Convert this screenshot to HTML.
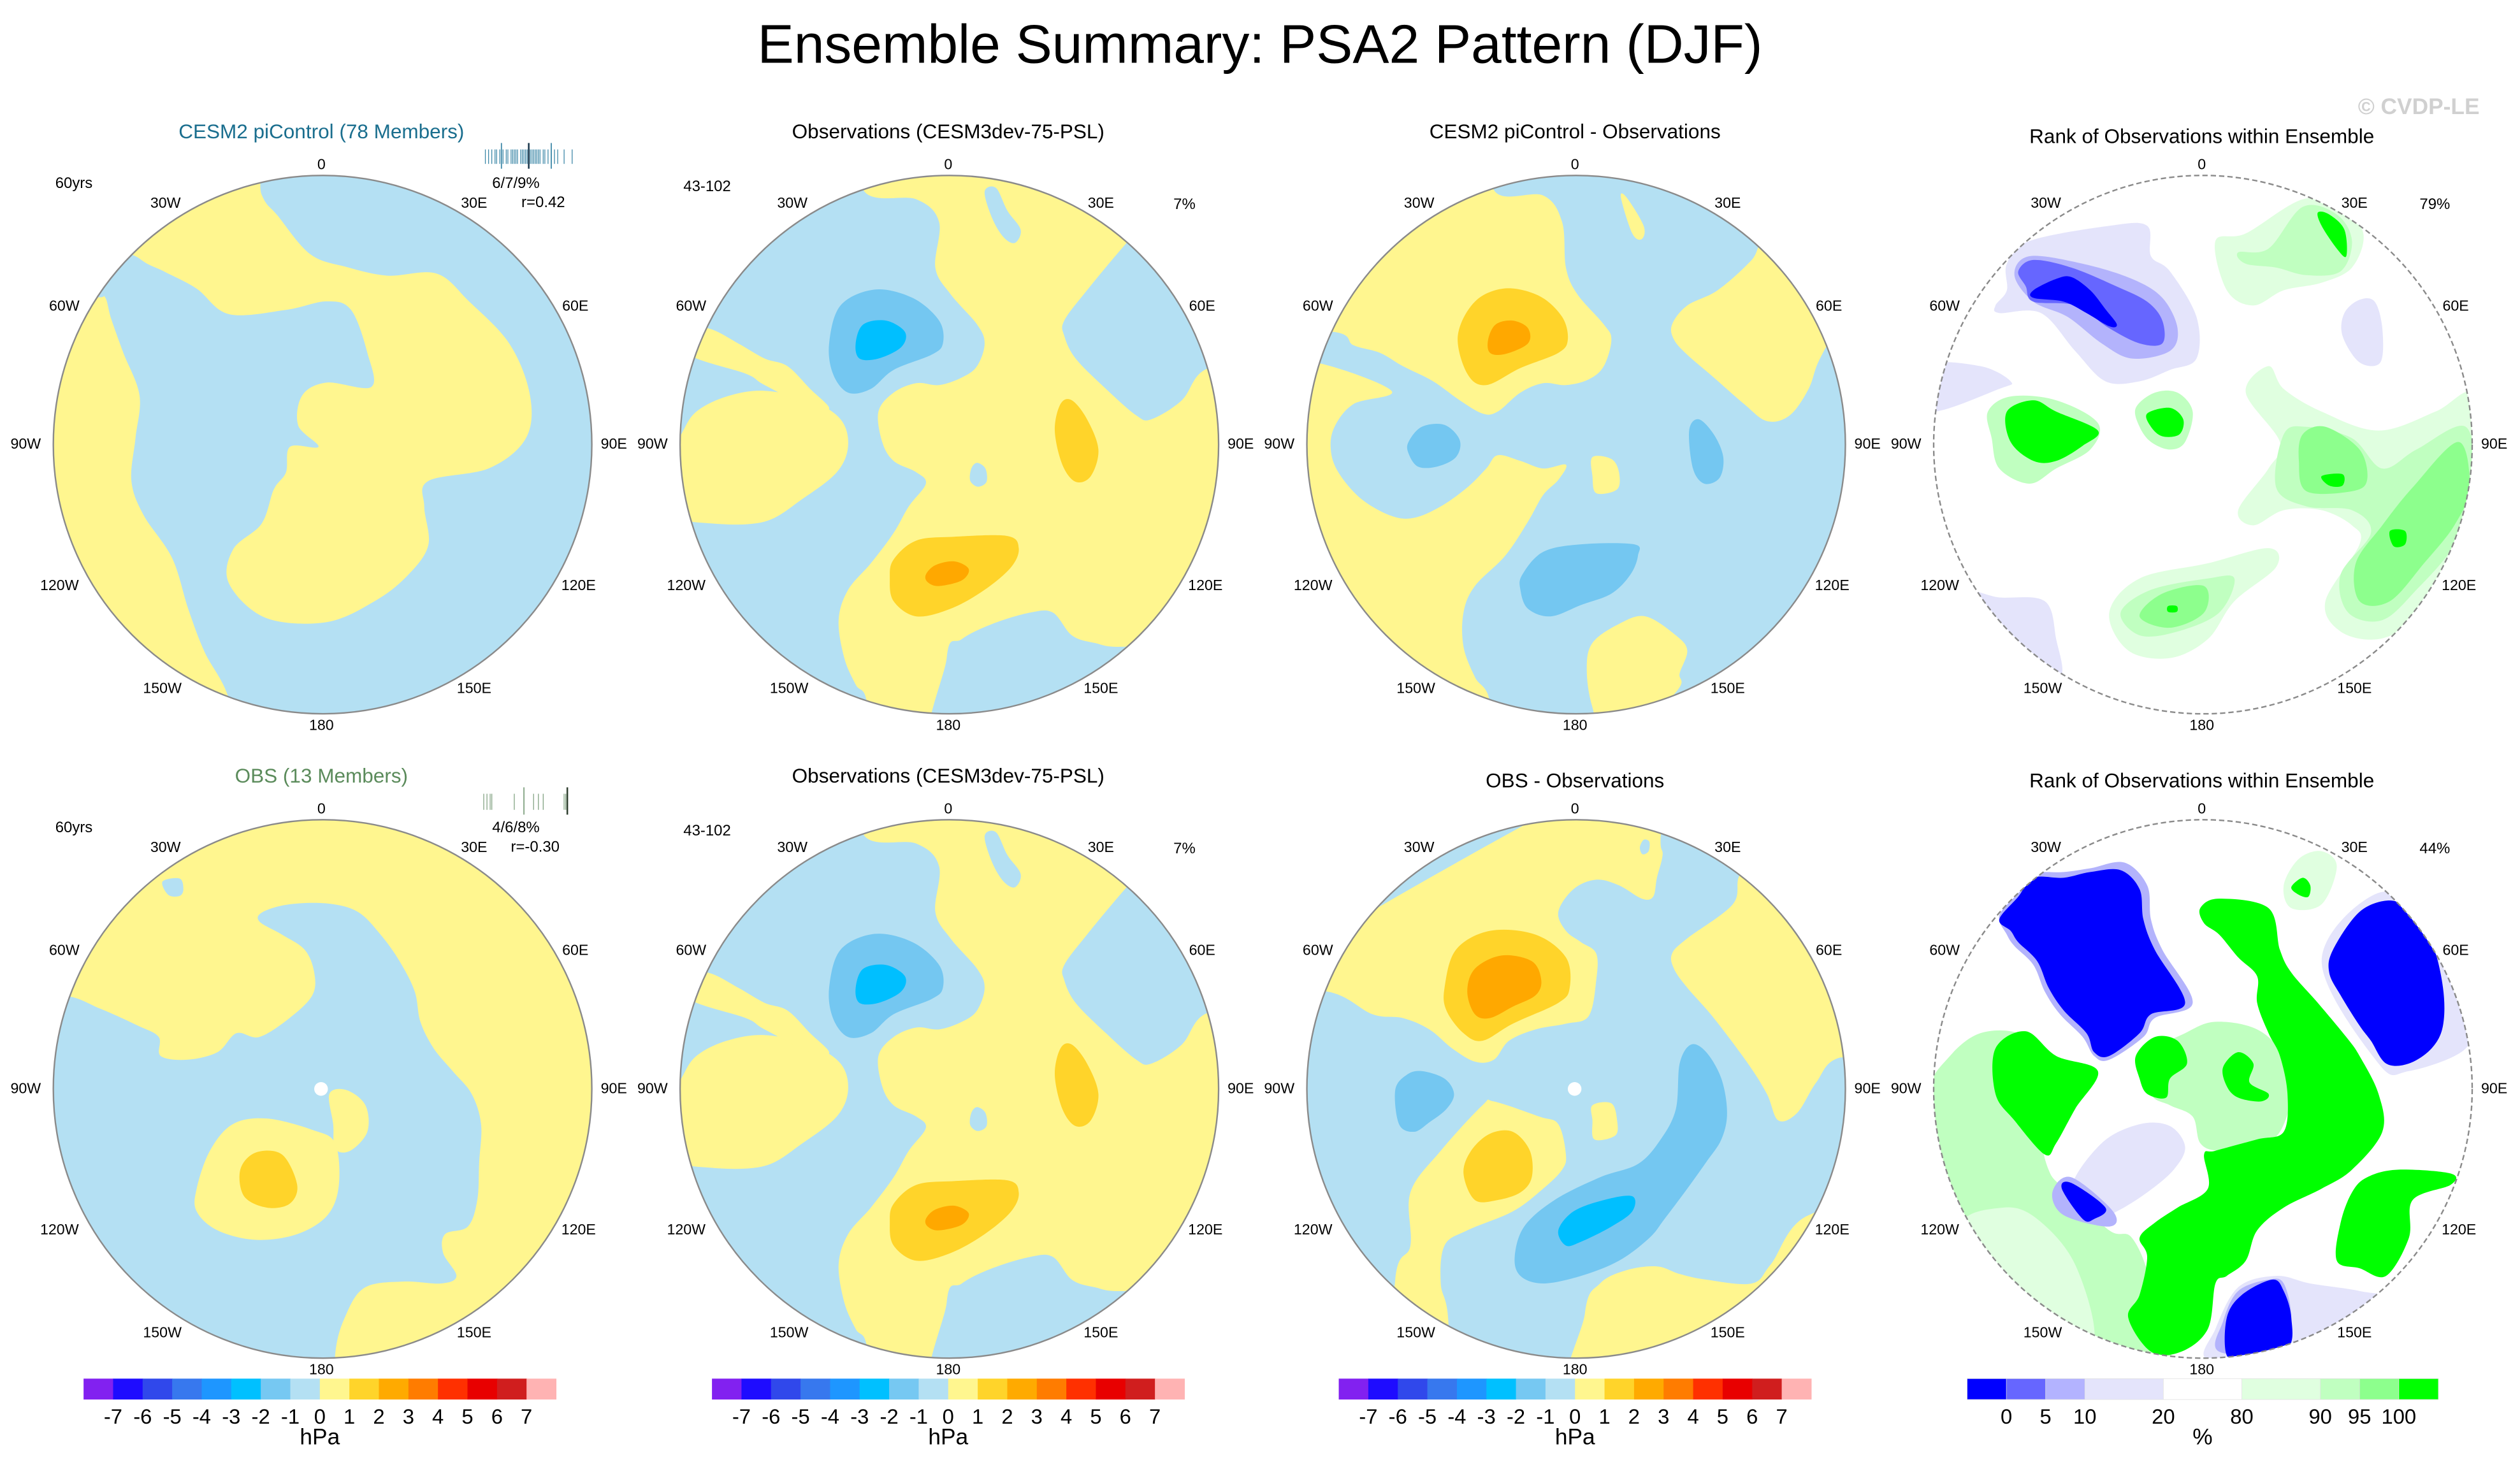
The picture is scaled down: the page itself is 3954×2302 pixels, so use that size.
<!DOCTYPE html>
<html><head><meta charset="utf-8"><title>Ensemble Summary: PSA2 Pattern (DJF)</title>
<style>
html,body{margin:0;padding:0;background:#fff;}
svg{display:block;font-family:"Liberation Sans",Arial,sans-serif;}
</style></head>
<body>
<svg id="fig" xmlns="http://www.w3.org/2000/svg" width="3954" height="2302" viewBox="0 0 1568 913" preserveAspectRatio="none">
<defs><clipPath id="disc" clipPathUnits="userSpaceOnUse"><circle cx="787" cy="787" r="710"/></clipPath></defs>
<rect width="1568" height="913" fill="#fff"/>
<text x="784" y="39" font-size="34" text-anchor="middle">Ensemble Summary: PSA2 Pattern (DJF)</text>
<text x="1505" y="71" font-size="14" font-weight="bold" fill="#d0d0d0" text-anchor="middle">© CVDP-LE</text>
<g id="panels"></g>
<g id="texts" font-size="12.5">
<text x="200" y="86" text-anchor="middle" fill="#1a6e8e">CESM2 piControl (78 Members)</text>
<text x="590" y="86" text-anchor="middle">Observations (CESM3dev-75-PSL)</text>
<text x="980" y="86" text-anchor="middle">CESM2 piControl - Observations</text>
<text x="1370" y="89" text-anchor="middle">Rank of Observations within Ensemble</text>
<text x="200" y="487" text-anchor="middle" fill="#5b8b5b">OBS (13 Members)</text>
<text x="590" y="487" text-anchor="middle">Observations (CESM3dev-75-PSL)</text>
<text x="980" y="490" text-anchor="middle">OBS - Observations</text>
<text x="1370" y="490" text-anchor="middle">Rank of Observations within Ensemble</text>
<g font-size="9.5">
<text x="46" y="117" text-anchor="middle">60yrs</text>
<text x="321" y="117" text-anchor="middle">6/7/9%</text>
<text x="338" y="129" text-anchor="middle">r=0.42</text>
<text x="440" y="119" text-anchor="middle">43-102</text>
<text x="737" y="130" text-anchor="middle">7%</text>
<text x="1515" y="130" text-anchor="middle">79%</text>
<text x="46" y="518" text-anchor="middle">60yrs</text>
<text x="321" y="518" text-anchor="middle">4/6/8%</text>
<text x="333" y="530" text-anchor="middle">r=-0.30</text>
<text x="440" y="520" text-anchor="middle">43-102</text>
<text x="737" y="531" text-anchor="middle">7%</text>
<text x="1515" y="531" text-anchor="middle">44%</text>
</g>
</g>
<g id="strips"></g>
<g id="colorbars"></g>
</svg>
<script>
// ---- colorbar data ----
const hpaLabels = ["-7","-6","-5","-4","-3","-2","-1","0","1","2","3","4","5","6","7"];
const hpaColors = ["#8221f0","#1e0cff","#3048eb","#3778ee","#1e96ff","#00c0ff","#76c8f2","#b4e0f3","#fff68f","#ffd42a","#ffaa00","#ff7c00","#ff3000","#e80000","#d01e1e","#ffb3b3"];
const rankLabels = ["0","5","10","20","80","90","95","100"];
const rankColors = ["#0000ff","#6666ff","#b3b3ff","#e4e4fb","#ffffff","#e0ffe0","#c0ffc0","#8dff8d","#00ff00"];
const rankWidths = [1,1,1,2,2,2,1,1,1];
// ensemble tick strips (member pattern stats)
const strip1Ticks = [302,304,306,308,309,311,313,315,316,318,319,320,321,322,324,325,326,327,328,330,331,332,333,334,335,336,338,339,341,343,345,347,351,356];
const strip1Marks = [312,329,343];
const strip2Ticks = [301,303,305,306,320,332,335,338,351,352];
const strip2Marks = [326,353];

const NS="http://www.w3.org/2000/svg";
function mk(tag,attrs,parent){const e=document.createElementNS(NS,tag);for(const k in attrs)e.setAttribute(k,attrs[k]);if(parent)parent.appendChild(e);return e;}
function smooth(p){const n=p.length;let d="M"+p[0][0]+","+p[0][1];for(let i=0;i<n;i++){const p0=p[(i-1+n)%n],p1=p[i],p2=p[(i+1)%n],p3=p[(i+2)%n];
const c1=[p1[0]+(p2[0]-p0[0])/6,p1[1]+(p2[1]-p0[1])/6],c2=[p2[0]-(p3[0]-p1[0])/6,p2[1]-(p3[1]-p1[1])/6];
d+=" C"+c1.join(",")+" "+c2.join(",")+" "+p2.join(",");}return d+"Z";}

const Y="#fff68f",B="#b4e0f3",B2="#74c7f1",B3="#00bfff",O1="#ffd42a",O2="#ffa800";
const L0="#0000ff",L5="#6666ff",L10="#b3b3fc",L20="#e4e4fb",G80="#e0ffe0",G90="#c0ffc0",G95="#8dff8d",G100="#00ff00";

const P2=[ [B,[[560,-100],[560,115],[700,140],[760,200],[750,320],[790,390],[860,470],[880,520],[860,580],[820,610],[760,630],[700,625],[640,650],[600,700],[610,780],[640,830],[700,860],[725,890],[680,950],[640,1020],[580,1100],[520,1170],[495,1250],[510,1350],[540,1420],[570,1470],[580,1700],[-100,1700],[-100,-100]]],
 [Y,[[80,760],[120,700],[200,660],[300,645],[420,670],[500,720],[520,790],[490,860],[400,930],[300,990],[160,995],[60,970],[30,860]]],
 [Y,[[60,480],[150,480],[230,520],[300,560],[360,580],[420,640],[470,690],[430,695],[300,630],[250,600],[100,550]]],
 [B2,[[470,520],[500,420],[590,378],[690,400],[760,460],[770,520],[740,550],[640,590],[580,640],[520,650],[480,600]]],
 [B3,[[540,520],[560,470],[620,460],[670,490],[660,530],[600,560],[550,560]]],
 [B,[[1090,460],[1150,380],[1250,260],[1350,150],[1650,400],[1600,560],[1460,590],[1400,670],[1320,720],[1280,710],[1200,640],[1120,560],[1090,500]]],
 [B,[[880,120],[910,110],[940,170],[975,220],[960,255],[930,240],[900,190]]],
 [B,[[780,1700],[780,1350],[820,1300],[900,1260],[1000,1230],[1060,1230],[1110,1290],[1170,1310],[1250,1320],[1500,1300],[1500,1700]]],
 [B,[[845,850],[860,835],[882,850],[885,885],[862,898],[842,882]]],
 [O1,[[1080,680],[1110,670],[1150,720],[1180,800],[1160,870],[1120,885],[1085,840],[1065,750]]],
 [O1,[[640,1090],[700,1040],[800,1030],[940,1028],[970,1060],[950,1110],[880,1170],[790,1220],[700,1240],[640,1200],[630,1140]]],
 [O2,[[725,1130],[750,1105],[800,1095],[838,1115],[820,1145],[760,1160],[730,1150]]] ];

const panels=[
 {name:"cesm2-picontrol-map",cx:200,cy:276,base:B,inner:"translate(787,787) scale(1.0725,1.128) translate(-790,-815)",shapes:[
  [Y,[[60,450],[230,470],[255,470],[270,520],[300,600],[340,700],[330,800],[320,900],[350,980],[420,1080],[460,1200],[500,1300],[560,1410],[600,1600],[-100,1600],[-100,450]]],
  [Y,[[250,300],[600,100],[640,230],[680,280],[760,370],[850,400],[950,420],[1070,415],[1150,480],[1250,580],[1300,700],[1290,800],[1200,870],[1050,900],[1040,960],[1050,1050],[1000,1120],[920,1180],[800,1230],[650,1220],[560,1140],[570,1060],[640,1000],[670,920],[700,880],[710,820],[780,820],[730,770],[740,700],[800,670],[910,680],[900,600],[860,500],[800,480],[700,500],[560,510],[480,450],[400,410],[340,380]]] ]},
 {name:"observations-map-1",cx:590,cy:276,base:Y,shapes:P2},
 {name:"cesm2-minus-obs-map",cx:980,cy:276,base:B,shapes:[
  [Y,[[570,-100],[570,115],[700,130],[750,200],[760,320],[790,390],[860,470],[880,510],[860,580],[820,615],[760,630],[700,625],[640,650],[580,700],[540,705],[480,670],[410,620],[330,580],[270,545],[200,525],[150,490],[-100,480],[-100,-100]]],
  [Y,[[-100,560],[100,570],[300,645],[200,680],[150,740],[140,800],[160,860],[220,930],[300,975],[360,980],[430,950],[500,900],[550,850],[580,815],[640,830],[700,850],[760,840],[740,880],[700,920],[660,990],[600,1080],[520,1160],[490,1230],[490,1320],[520,1400],[560,1470],[560,1700],[-100,1700]]],
  [O1,[[475,500],[520,410],[600,375],[690,395],[750,450],[765,510],[740,545],[640,585],[550,630],[500,600]]],
  [O2,[[555,510],[575,470],[620,460],[660,480],[660,520],[600,548],[560,545]]],
  [Y,[[1040,470],[1080,420],[1160,380],[1250,300],[1330,200],[1650,300],[1500,450],[1430,560],[1400,640],[1350,710],[1290,725],[1230,680],[1150,610],[1080,550],[1045,510]]],
  [Y,[[905,135],[920,135],[965,210],[960,245],[935,230]]],
  [Y,[[830,1310],[900,1260],[970,1240],[1050,1290],[1080,1330],[1060,1390],[1050,1440],[880,1600],[830,1480],[815,1380]]],
  [Y,[[830,820],[880,825],[900,860],[895,905],[840,915],[830,870]]],
  [B2,[[345,780],[380,740],[440,735],[480,775],[470,820],[420,845],[370,845],[345,810]]],
  [B2,[[1085,750],[1110,720],[1150,760],[1175,820],[1165,875],[1125,890],[1095,850]]],
  [B2,[[645,1130],[700,1070],[800,1050],[940,1050],[950,1080],[930,1130],[880,1180],[800,1210],[720,1240],[660,1220],[640,1170]]] ]},
 {name:"rank-map-1",cx:1370,cy:276,base:"#ffffff",dashed:true,shapes:[
  [L20,[[270,310],[330,250],[540,210],[640,210],[650,290],[700,330],[770,450],[770,560],[700,590],[620,620],[530,620],[450,540],[360,440],[250,440],[240,420],[270,380]]],
  [L10,[[290,340],[330,290],[470,310],[600,350],[680,400],[720,480],[700,540],[600,560],[520,520],[430,450],[340,410]]],
  [L5,[[300,330],[340,300],[440,320],[560,370],[640,410],[680,460],[680,520],[620,520],[540,480],[450,420],[340,410],[320,370]]],
  [L0,[[340,380],[400,350],[440,345],[490,380],[530,430],[560,470],[540,475],[480,440],[420,410],[340,400]]],
  [L20,[[1160,440],[1200,405],[1240,410],[1260,480],[1255,570],[1200,570],[1155,500]]],
  [L20,[[60,580],[200,580],[280,620],[250,640],[60,700]]],
  [L20,[[150,1180],[250,1190],[370,1200],[400,1300],[410,1400],[300,1380]]],
  [G80,[[820,250],[900,230],[1050,140],[1150,160],[1210,230],[1180,320],[1100,360],[1000,380],[920,420],[850,380]]],
  [G90,[[880,280],[960,270],[1050,160],[1140,180],[1180,250],[1150,330],[1060,340],[980,320],[900,310]]],
  [G100,[[1090,175],[1120,180],[1160,220],[1165,290],[1140,270],[1100,210]]],
  [G90,[[220,700],[280,660],[400,670],[510,730],[490,800],[400,850],[330,890],[250,850],[230,770]]],
  [G100,[[270,700],[340,670],[400,700],[510,750],[470,790],[400,830],[340,830],[280,780]]],
  [G90,[[610,690],[660,650],[720,650],[760,700],[740,780],[700,800],[650,780],[620,740]]],
  [G100,[[640,705],[700,690],[735,720],[725,760],[680,765],[650,740]]],
  [G80,[[900,650],[960,580],[1000,640],[1100,700],[1250,750],[1400,700],[1500,650],[1550,800],[1500,1000],[1450,1150],[1350,1250],[1250,1300],[1150,1280],[1110,1200],[1200,1050],[1180,1000],[1100,960],[1000,960],[920,1000],[880,960],[960,850],[990,780]]],
  [G90,[[1000,760],[1060,740],[1180,770],[1260,850],[1350,800],[1480,740],[1500,900],[1450,1050],[1350,1170],[1260,1250],[1170,1230],[1150,1130],[1230,1020],[1180,960],[1060,950],[980,900]]],
  [G95,[[1050,760],[1110,740],[1200,800],[1220,880],[1180,910],[1060,910],[1040,830]]],
  [G95,[[1340,900],[1460,780],[1490,900],[1450,1000],[1370,1100],[1280,1200],[1200,1200],[1190,1100],[1260,1000]]],
  [G100,[[1100,870],[1155,865],[1155,895],[1120,895]]],
  [G100,[[1280,1015],[1320,1015],[1320,1050],[1290,1055]]],
  [G80,[[540,1230],[620,1140],[800,1100],[960,1060],[980,1110],[870,1200],[800,1300],[700,1350],[590,1330]]],
  [G90,[[570,1230],[650,1170],[800,1140],[870,1140],[830,1230],[720,1280],[620,1290]]],
  [G95,[[620,1240],[680,1180],[790,1160],[790,1230],[700,1270]]],
  [G100,[[695,1213],[718,1213],[718,1228],[695,1228]]] ]},
 {name:"obs-members-map",cx:200,cy:677,base:Y,dot:true,shapes:[
  [B,[[-100,540],[100,540],[200,575],[300,620],[355,650],[360,700],[430,710],[510,690],[560,640],[620,650],[700,600],[760,540],[765,480],[740,420],[680,380],[620,345],[630,320],[700,300],[800,298],[880,320],[940,380],[990,450],[1030,530],[1045,610],[1080,680],[1130,740],[1180,800],[1205,880],[1200,980],[1195,1080],[1170,1150],[1110,1170],[1105,1220],[1140,1280],[1100,1300],[1000,1295],[900,1310],[850,1380],[820,1490],[820,1700],[-100,1700]]],
  [Y,[[805,800],[850,790],[900,830],[905,900],[860,950],[820,945],[815,880]]],
  [Y,[[455,1050],[490,950],[550,880],[640,865],[760,895],[820,930],[830,1040],[800,1120],[720,1170],[610,1185],[510,1160],[455,1110]]],
  [O1,[[570,1000],[610,955],[680,960],[720,1040],[700,1090],[640,1100],[580,1070]]],
  [B,[[365,240],[410,232],[420,260],[410,278],[380,275]]] ]},
 {name:"observations-map-2",cx:590,cy:677,base:Y,shapes:P2},
 {name:"obs-minus-obs-map",cx:980,cy:677,base:B,dot:true,shapes:[
  [Y,[[-100,530],[130,530],[250,590],[330,600],[400,630],[460,680],[520,715],[570,710],[610,660],[680,630],[760,615],[820,595],[840,500],[840,430],[800,400],[760,370],[740,320],[780,260],[840,235],[900,250],[960,285],[990,280],[1000,230],[1015,170],[1010,120],[1030,-100]]],
  [B,[[955,150],[965,130],[980,135],[978,160],[962,168]]],
  [Y,[[1040,430],[1080,390],[1200,300],[1220,220],[1300,150],[1650,300],[1650,700],[1480,705],[1420,770],[1370,850],[1320,870],[1290,800],[1240,720],[1150,600],[1080,520],[1045,470]]],
  [Y,[[350,1060],[430,950],[540,830],[570,820],[690,860],[740,880],[760,960],[750,1000],[700,1050],[620,1110],[500,1160],[440,1200],[430,1300],[450,1400],[450,1700],[300,1700],[310,1290],[350,1200]]],
  [O1,[[490,1010],[510,950],[560,905],[620,900],[665,950],[670,1020],[640,1060],[580,1080],[520,1080]]],
  [O1,[[440,520],[470,420],[560,370],[680,380],[760,440],[770,520],[740,560],[620,615],[540,660],[490,640],[445,580]]],
  [O2,[[500,530],[520,470],[590,435],[670,450],[695,500],[680,540],[620,570],[560,600],[520,590]]],
  [Y,[[830,830],[880,825],[895,870],[890,910],[835,920],[830,870]]],
  [Y,[[800,1700],[810,1380],[850,1300],[920,1265],[1000,1255],[1060,1275],[1130,1290],[1250,1300],[1300,1250],[1400,1120],[1650,1100],[1500,1700]]],
  [B2,[[310,790],[340,750],[380,740],[440,760],[465,800],[445,840],[400,875],[360,900],[320,880]]],
  [B2,[[625,1230],[650,1150],[730,1080],[850,1020],[950,985],[1010,920],[1050,840],[1060,720],[1090,670],[1130,690],[1170,760],[1185,850],[1170,920],[1130,980],[1080,1050],[1020,1130],[980,1180],[900,1240],[800,1280],[700,1300],[640,1280]]],
  [B3,[[740,1160],[780,1110],[860,1080],[935,1070],[935,1110],[880,1150],[800,1190],[760,1200]]] ]},
 {name:"rank-map-2",cx:1370,cy:677,base:"#ffffff",dashed:true,shapes:[
  [G90,[[60,800],[120,700],[200,640],[300,640],[360,700],[360,900],[380,1000],[420,1050],[540,1160],[600,1180],[650,1300],[700,1550],[500,1560],[300,1400],[150,1200],[70,1000]]],
  [G80,[[150,1150],[260,1100],[350,1130],[450,1250],[500,1450],[400,1500],[250,1350]]],
  [L20,[[1100,450],[1250,270],[1400,350],[1480,580],[1480,680],[1330,740],[1250,720]]],
  [L0,[[1130,420],[1200,320],[1280,290],[1330,320],[1390,400],[1420,520],[1420,620],[1390,680],[1330,720],[1270,720],[1230,660],[1200,620],[1150,540],[1120,480]]],
  [L10,[[250,330],[300,270],[340,220],[420,215],[490,205],[580,190],[640,250],[650,340],[680,420],[760,560],[660,600],[630,650],[540,710],[500,700],[470,650],[410,590],[370,530],[340,460],[290,410],[270,380]]],
  [L0,[[250,340],[300,280],[340,230],[420,230],[490,215],[570,210],[620,260],[630,340],[660,420],[740,560],[650,590],[620,640],[540,700],[500,690],[480,640],[420,580],[380,520],[350,450],[300,400],[280,370]]],
  [L20,[[440,1050],[520,930],[620,880],[700,885],[740,940],[710,1000],[640,1060],[560,1110],[500,1130]]],
  [L10,[[390,1060],[440,1020],[550,1110],[540,1150],[420,1120]]],
  [L0,[[415,1050],[440,1035],[530,1100],[500,1130],[470,1130]]],
  [L20,[[800,1500],[820,1420],[880,1310],[980,1280],[1070,1300],[1200,1320],[1300,1350],[1100,1450],[1000,1480]]],
  [L10,[[830,1480],[840,1400],[880,1320],[960,1290],[1000,1300],[1020,1390],[1000,1480]]],
  [L0,[[850,1390],[890,1330],[970,1290],[1000,1320],[1020,1390],[1010,1470],[900,1490],[850,1490]]],
  [G100,[[240,680],[320,635],[400,700],[510,740],[450,840],[400,930],[370,960],[290,870],[240,800]]],
  [G90,[[740,640],[820,610],[930,630],[1000,700],[1020,800],[990,900],[930,940],[830,950],[780,930],[760,860],[700,830],[650,800],[640,700]]],
  [G100,[[780,310],[830,285],[960,310],[990,420],[1020,480],[1090,560],[1165,650],[1200,700],[1250,800],[1260,900],[1180,1000],[1100,1050],[1000,1100],[930,1160],[900,1240],[850,1280],[820,1300],[800,1420],[730,1480],[650,1480],[590,1390],[620,1330],[640,1230],[620,1180],[660,1140],[720,1100],[800,1050],[790,960],[820,950],[930,920],[1000,900],[1010,800],[990,700],[960,640],[930,560],[930,490],[880,440],[830,380],[790,350]]],
  [G100,[[610,700],[660,650],[720,660],[745,720],[700,760],[690,810],[640,800],[620,760]]],
  [G100,[[840,730],[880,690],[920,720],[910,770],[960,800],[940,820],[880,810],[850,780]]],
  [G100,[[1150,1140],[1180,1060],[1220,1020],[1300,1000],[1440,1010],[1440,1040],[1340,1080],[1330,1180],[1270,1280],[1200,1260],[1140,1240]]],
  [G80,[[1040,180],[1100,160],[1140,200],[1100,300],[1020,310],[1000,250]]],
  [G100,[[1020,255],[1050,230],[1070,250],[1065,280],[1040,275]]] ]}
];

const lonLabels=["0","30W","30E","60W","60E","90W","90E","120W","120E","150W","150E","180"];
const lonDx=[0,-97,95,-160,158,-184,182,-163,160,-99,95,0];
const lonDy=[-174,-150,-150,-86,-86,0,0,88,88,152,152,175];

const root=document.getElementById("panels");
panels.forEach((p,pi)=>{
  const g=mk("g",{transform:`translate(${p.cx-185},${p.cy-185}) scale(0.23597)`},root);
  
  
  const c=mk("g",{"clip-path":"url(#disc)"},g);
  const bg=mk("circle",{cx:787,cy:787,r:710,fill:p.base},c);
  
  
  const inner=mk("g",p.inner?{transform:p.inner}:{},c);
  p.shapes.forEach((s,si)=>{
    const path=mk("path",{d:smooth(s[1]),fill:s[0]},inner);
    
    
  });
  if(p.dot){const d=mk("circle",{cx:783,cy:787,r:18,fill:"#fff"},c);
    
    }
  const border=mk("circle",{cx:787,cy:787,r:710,fill:"none",stroke:"#8a8a8a","stroke-width":4},g);
  if(p.dashed)border.setAttribute("stroke-dasharray","14 8");
  
  
  const svg=document.getElementById("fig");
  lonLabels.forEach((t,i)=>{
    const tx=mk("text",{x:p.cx+lonDx[i],y:p.cy+lonDy[i]+3.3,"font-size":"9.2","text-anchor":"middle"},svg);
    tx.textContent=t;
    
    
  });
});

// ensemble strips
const st=document.getElementById("strips");
function strip(ticks,marks,y0,y1,col,dark){
  ticks.forEach(x=>{const l=mk("line",{x1:x,x2:x,y1:y0,y2:y1,stroke:col,"stroke-width":0.5},st);
    
    });
  marks.forEach((x,i)=>{const l=mk("line",{x1:x,x2:x,y1:y0-4,y2:y1+3,stroke:i===1?dark:col,"stroke-width":i===1?1:0.7},st);
    
    });
}
strip(strip1Ticks,strip1Marks,93,102,"#3a86a6","#17354a");
strip(strip2Ticks,strip2Marks,494,504,"#7fa07f","#2f3f2f");

// colorbars
const cb=document.getElementById("colorbars");
function hpaBar(x0,w,name){
  const g=mk("g",{},cb);
  
  
  const bw=w/hpaColors.length;
  hpaColors.forEach((c,i)=>{const r=mk("rect",{x:x0+i*bw,y:858,width:bw+0.2,height:13,fill:c},g);
    
    });
  hpaLabels.forEach((t,i)=>{const tx=mk("text",{x:x0+(i+1)*bw,y:886,"font-size":"13","text-anchor":"middle"},g);tx.textContent=t;
    
    });
  const u=mk("text",{x:x0+w/2,y:899,"font-size":"14","text-anchor":"middle"},g);u.textContent="hPa";
  
  
}
hpaBar(52,294,"colorbar-hpa-1");hpaBar(443,294,"colorbar-hpa-2");hpaBar(833,294,"colorbar-hpa-3");
(function(){
  const g=mk("g",{},cb);
  
  
  const x0=1224,w=293,tot=rankWidths.reduce((a,b)=>a+b,0),u=w/tot;let x=x0;const edges=[];
  rankColors.forEach((c,i)=>{const r=mk("rect",{x:x,y:858,width:rankWidths[i]*u+0.2,height:13,fill:c,stroke:"#e0e0e0","stroke-width":0.3},g);
    
    
    x+=rankWidths[i]*u;edges.push(x);});
  rankLabels.forEach((t,i)=>{const tx=mk("text",{x:edges[i],y:886,"font-size":"13","text-anchor":"middle"},g);tx.textContent=t;
    
    });
  const ut=mk("text",{x:x0+w/2,y:899,"font-size":"14","text-anchor":"middle"},g);ut.textContent="%";
  
  
})();
</script>
</body></html>
